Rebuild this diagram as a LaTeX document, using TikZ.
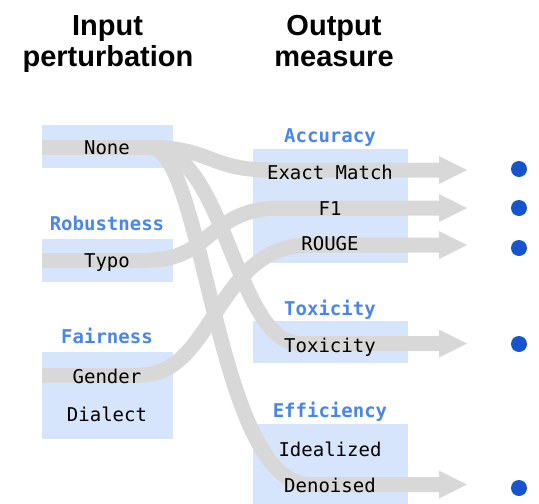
\documentclass[tikz,border=0pt]{standalone}
\usepackage{fontspec}
\newfontfamily\monof{DejaVu Sans Mono}
\newfontfamily\headf{Liberation Sans}
\usetikzlibrary{arrows.meta}
\definecolor{boxblue}{RGB}{214,228,252}
\definecolor{catblue}{RGB}{74,134,232}
\definecolor{dotblue}{RGB}{21,84,204}
\definecolor{bandgray}{RGB}{216,216,216}

\begin{document}
\begin{tikzpicture}[x=1pt,y=-1pt,
  panel/.style={fill=boxblue, draw=none, inner sep=0pt},
  item/.style={font=\monof\fontsize{19}{19}\selectfont, anchor=base, inner sep=0pt, text=black},
  cat/.style={font=\monof\bfseries\fontsize{19}{19}\selectfont, anchor=base, inner sep=0pt, text=catblue},
  head/.style={font=\headf\bfseries\fontsize{29}{29}\selectfont, anchor=base, inner sep=0pt},
  band/.style={draw=bandgray, line width=15pt},
  flow/.style={band, -{Triangle[width=28pt,length=28pt,line width=0pt]}},
  result/.style={circle, fill=dotblue, minimum size=16pt, inner sep=0pt}]

\useasboundingbox (0,0) rectangle (539,504);

% column headings
\node[head] (h-in1)  at (107.5,35) {Input};
\node[head] (h-in2)  at (108,66)   {perturbation};
\node[head] (h-out1) at (334,35)   {Output};
\node[head] (h-out2) at (334,66)   {measure};

% shaded panels
\node[panel, minimum width=131pt, minimum height=43pt]  (p-none)   at (107.5,146.5) {};
\node[panel, minimum width=131pt, minimum height=43pt]  (p-typo)   at (107.5,260.5) {};
\node[panel, minimum width=131pt, minimum height=87pt]  (p-fair)   at (107.5,395.5) {};
\node[panel, minimum width=155pt, minimum height=114pt] (p-acc)    at (330.5,206)   {};
\node[panel, minimum width=155pt, minimum height=42pt]  (p-tox)    at (330.5,342)   {};
\node[panel, minimum width=155pt, minimum height=80pt]  (p-eff)    at (330.5,464)   {};

% band end points
\coordinate (s-none)   at (42,147.5);
\coordinate (k-none)   at (150,147.5);
\coordinate (s-typo)   at (42,260);
\coordinate (k-typo)   at (150,260);
\coordinate (s-gender) at (42,375);
\coordinate (k-gender) at (140,375);

\coordinate (k-em)    at (270,170);
\coordinate (t-em)    at (467,170);
\coordinate (k-f1)    at (280,208);
\coordinate (t-f1)    at (467,208);
\coordinate (k-rouge) at (310,245);
\coordinate (t-rouge) at (467,245);
\coordinate (k-tox)   at (300,343.5);
\coordinate (t-tox)   at (467,343.5);
\coordinate (k-den)   at (310,484.5);
\coordinate (t-den)   at (467,484.5);

% flows
\draw[band] (s-none) -- (k-none);
\draw[band] (s-typo) -- (k-typo);
\draw[band] (s-gender) -- (k-gender);
\draw[flow] (k-none) .. controls +(60,0) and +(-60,0) .. (k-em) -- (t-em);
\draw[flow] (k-none) .. controls +(75,0) and +(-65,0) .. (k-tox) -- (t-tox);
\draw[flow] (k-none) .. controls +(55,0) and +(-95,0) .. (k-den) -- (t-den);
\draw[flow] (k-typo) .. controls +(60,0) and +(-70,0) .. (k-f1) -- (t-f1);
\draw[flow] (k-gender) .. controls +(75,0) and +(-95,0) .. (k-rouge) -- (t-rouge);

% labels
\node[item] (l-none)   at (107,154) {None};
\node[cat]  (c-rob)    at (107,230) {Robustness};
\node[item] (l-typo)   at (107,267) {Typo};
\node[cat]  (c-fair)   at (107,343) {Fairness};
\node[item] (l-gender) at (107,383) {Gender};
\node[item] (l-dial)   at (107,421) {Dialect};

\node[cat]  (c-acc)    at (330,142) {Accuracy};
\node[item] (l-em)     at (330,179) {Exact Match};
\node[item] (l-f1)     at (330,215) {F1};
\node[item] (l-rouge)  at (330,250) {ROUGE};
\node[cat]  (c-tox)    at (330,315) {Toxicity};
\node[item] (l-tox)    at (330,352) {Toxicity};
\node[cat]  (c-eff)    at (330,417) {Efficiency};
\node[item] (l-ideal)  at (330,456) {Idealized};
\node[item] (l-den)    at (330,492) {Denoised};

% result markers
\node[result] (d-em)    at (519,169) {};
\node[result] (d-f1)    at (519,208) {};
\node[result] (d-rouge) at (519,248) {};
\node[result] (d-tox)   at (519,344) {};
\node[result] (d-den)   at (519,488) {};
\end{tikzpicture}
\end{document}
